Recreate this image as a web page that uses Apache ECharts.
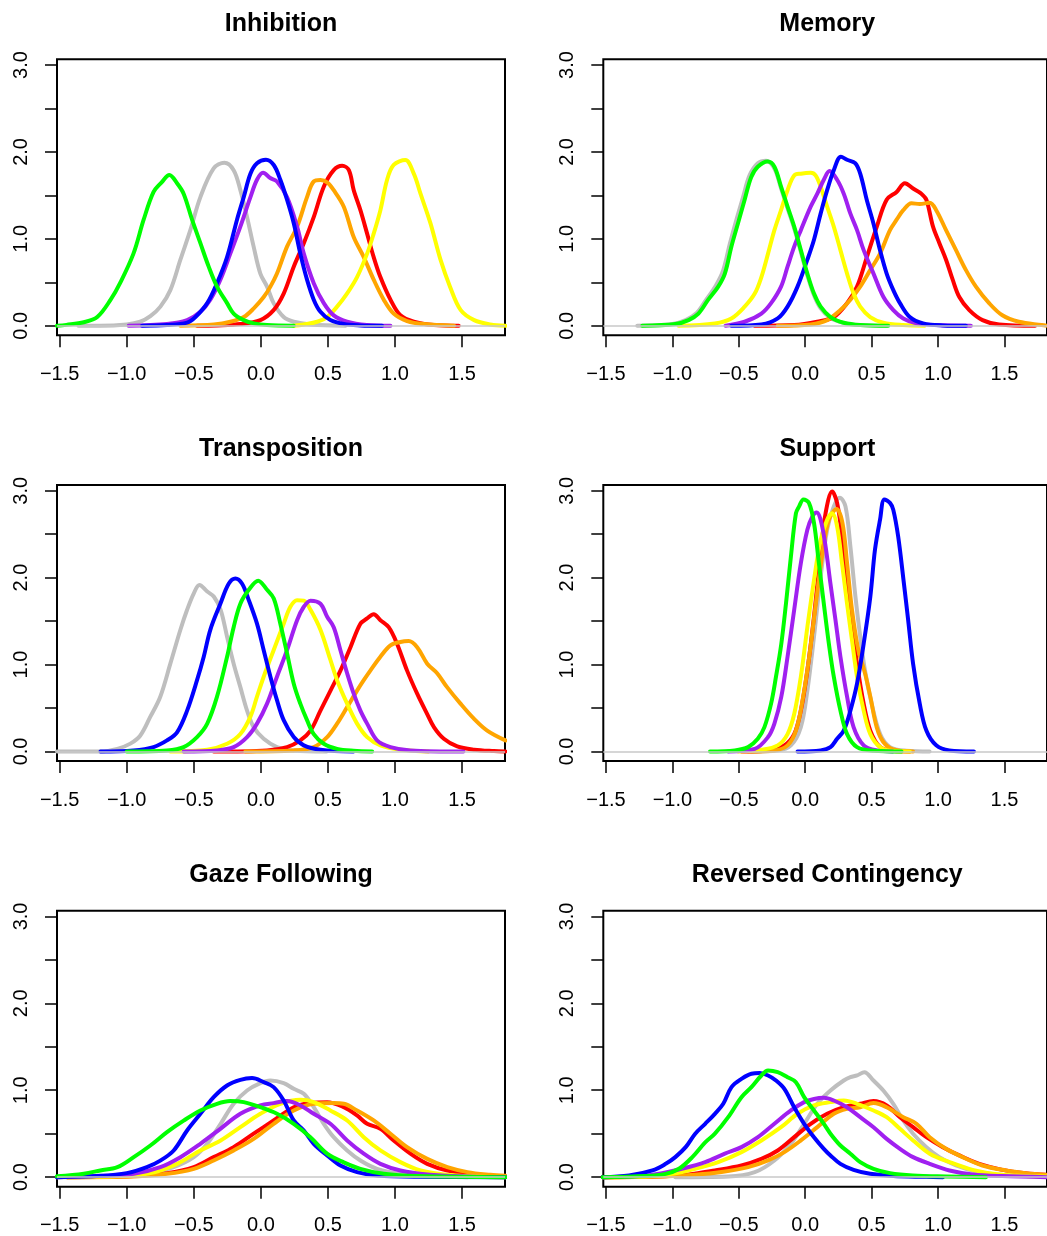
<!DOCTYPE html>
<html>
<head>
<meta charset="utf-8">
<script src="https://cdn.jsdelivr.net/npm/echarts@6/dist/echarts.min.js"></script>
<style>
  html, body { margin: 0; padding: 0; background: #ffffff; }
  #chart { width: 1047px; height: 1236px; }
</style>
</head>
<body>
<div id="chart"></div>
<script>
// Posterior density curves, one panel per task, seven groups per panel.
const panelTitles = ['Inhibition', 'Memory', 'Transposition', 'Support', 'Gaze Following', 'Reversed Contingency'];
const xTicks = [-1.5, -1.0, -0.5, 0.0, 0.5, 1.0, 1.5];
const yTicks = [0, 0.5, 1.0, 1.5, 2.0, 2.5, 3.0];
const yLabels = [0, 1.0, 2.0, 3.0];
const curveOrder = ['gray', 'red', 'orange', 'yellow', 'purple', 'blue', 'green'];
const curveColors = { red: '#ff0000', orange: '#ffa500', yellow: '#ffff00', green: '#00ff00', blue: '#0000ff', purple: '#a020f0', gray: '#bebebe' };

const inhibition = {
  green: [[-1.52,0],[-1.45,0.01],[-1.32,0.04],[-1.22,0.10],[-1.12,0.30],[-1.05,0.49],[-0.95,0.83],[-0.874,1.22],[-0.80,1.54],[-0.74,1.65],[-0.682,1.734],[-0.625,1.64],[-0.576,1.52],[-0.513,1.22],[-0.451,0.95],[-0.389,0.68],[-0.327,0.45],[-0.252,0.26],[-0.203,0.14],[-0.128,0.065],[-0.053,0.027],[0.046,0.008],[0.245,0]],
  gray: [[-1.36,0],[-1.2,0],[-1.0,0.015],[-0.90,0.046],[-0.824,0.11],[-0.749,0.22],[-0.675,0.41],[-0.60,0.76],[-0.526,1.10],[-0.451,1.48],[-0.352,1.81],[-0.272,1.876],[-0.203,1.79],[-0.153,1.56],[-0.103,1.25],[-0.054,0.91],[-0.004,0.60],[0.046,0.45],[0.095,0.26],[0.17,0.10],[0.245,0.046],[0.37,0.015],[0.63,0]],
  blue: [[-0.886,0],[-0.70,0.008],[-0.55,0.035],[-0.488,0.10],[-0.40,0.26],[-0.327,0.49],[-0.252,0.79],[-0.178,1.22],[-0.128,1.48],[-0.078,1.75],[-0.029,1.87],[0.038,1.91],[0.096,1.85],[0.145,1.68],[0.195,1.45],[0.245,1.18],[0.294,0.83],[0.344,0.53],[0.394,0.30],[0.444,0.16],[0.518,0.065],[0.618,0.019],[0.742,0.004],[0.904,0]],
  purple: [[-0.986,0],[-0.70,0.02],[-0.55,0.065],[-0.451,0.16],[-0.377,0.30],[-0.302,0.53],[-0.228,0.83],[-0.153,1.14],[-0.078,1.48],[-0.029,1.68],[0.016,1.76],[0.07,1.70],[0.12,1.66],[0.195,1.48],[0.27,1.14],[0.32,0.83],[0.394,0.49],[0.469,0.26],[0.543,0.12],[0.643,0.046],[0.79,0.008],[0.966,0]],
  orange: [[-0.60,0],[-0.35,0.015],[-0.227,0.046],[-0.128,0.10],[-0.053,0.20],[0.021,0.33],[0.071,0.45],[0.12,0.60],[0.195,0.91],[0.27,1.14],[0.344,1.48],[0.394,1.66],[0.444,1.676],[0.494,1.65],[0.543,1.56],[0.618,1.37],[0.692,1.02],[0.767,0.79],[0.841,0.53],[0.916,0.30],[0.99,0.14],[1.09,0.054],[1.215,0.019],[1.44,0]],
  red: [[-0.476,0],[-0.327,0.004],[-0.153,0.019],[-0.004,0.065],[0.095,0.18],[0.17,0.37],[0.245,0.68],[0.32,0.95],[0.394,1.25],[0.469,1.60],[0.543,1.79],[0.606,1.84],[0.656,1.79],[0.692,1.56],[0.742,1.33],[0.792,1.06],[0.841,0.79],[0.891,0.56],[0.966,0.30],[1.04,0.12],[1.14,0.046],[1.29,0.008],[1.475,0]],
  yellow: [[0.245,0],[0.32,0.015],[0.42,0.046],[0.494,0.10],[0.568,0.22],[0.642,0.37],[0.717,0.56],[0.792,0.83],[0.841,1.06],[0.891,1.33],[0.941,1.68],[0.99,1.85],[1.077,1.906],[1.14,1.75],[1.19,1.52],[1.264,1.18],[1.339,0.76],[1.41,0.45],[1.49,0.18],[1.59,0.065],[1.71,0.015],[1.823,0]]
};

const memory = {
  gray: [[-1.264,0],[-1.0,0.02],[-0.90,0.065],[-0.815,0.15],[-0.745,0.30],[-0.67,0.47],[-0.617,0.64],[-0.568,0.94],[-0.518,1.22],[-0.468,1.48],[-0.419,1.73],[-0.357,1.87],[-0.295,1.90],[-0.232,1.81],[-0.182,1.58],[-0.133,1.35],[-0.083,1.12],[-0.033,0.85],[0.016,0.58],[0.066,0.35],[0.116,0.20],[0.19,0.09],[0.29,0.03],[0.414,0.008],[0.613,0]],
  green: [[-1.227,0],[-0.977,0.02],[-0.878,0.065],[-0.804,0.14],[-0.73,0.30],[-0.655,0.45],[-0.605,0.60],[-0.556,0.91],[-0.506,1.18],[-0.456,1.45],[-0.407,1.71],[-0.357,1.83],[-0.282,1.89],[-0.232,1.83],[-0.182,1.60],[-0.133,1.37],[-0.083,1.14],[-0.033,0.87],[0.016,0.60],[0.066,0.37],[0.116,0.22],[0.19,0.10],[0.29,0.035],[0.414,0.008],[0.625,0]],
  yellow: [[-0.953,0],[-0.68,0.027],[-0.556,0.084],[-0.456,0.22],[-0.38,0.37],[-0.33,0.56],[-0.28,0.83],[-0.232,1.10],[-0.182,1.33],[-0.133,1.56],[-0.083,1.73],[-0.033,1.75],[0.041,1.76],[0.078,1.73],[0.116,1.60],[0.165,1.37],[0.215,1.14],[0.265,0.87],[0.315,0.60],[0.364,0.37],[0.414,0.22],[0.489,0.10],[0.588,0.035],[0.737,0.008],[0.898,0]],
  purple: [[-0.60,0],[-0.456,0.046],[-0.33,0.14],[-0.257,0.26],[-0.182,0.45],[-0.133,0.68],[-0.083,0.91],[-0.033,1.10],[0.041,1.37],[0.091,1.52],[0.14,1.68],[0.183,1.78],[0.24,1.68],[0.29,1.52],[0.34,1.29],[0.39,1.10],[0.44,0.87],[0.514,0.60],[0.589,0.33],[0.663,0.18],[0.738,0.084],[0.837,0.027],[0.986,0.008],[1.247,0]],
  blue: [[-0.556,0],[-0.33,0.015],[-0.207,0.084],[-0.133,0.22],[-0.058,0.45],[0.016,0.76],[0.066,0.99],[0.116,1.29],[0.165,1.56],[0.215,1.79],[0.269,1.945],[0.315,1.91],[0.376,1.87],[0.414,1.75],[0.463,1.45],[0.513,1.18],[0.563,0.87],[0.613,0.60],[0.663,0.41],[0.713,0.26],[0.787,0.10],[0.887,0.027],[1.036,0.004],[1.21,0]],
  red: [[-0.38,0],[-0.083,0.008],[0.09,0.046],[0.215,0.10],[0.315,0.26],[0.39,0.45],[0.464,0.79],[0.539,1.14],[0.613,1.45],[0.688,1.54],[0.75,1.64],[0.812,1.58],[0.874,1.52],[0.912,1.45],[0.962,1.14],[1.01,0.95],[1.06,0.76],[1.11,0.53],[1.16,0.33],[1.235,0.18],[1.335,0.065],[1.459,0.015],[1.73,0]],
  orange: [[-0.207,0],[0.041,0.015],[0.165,0.065],[0.265,0.18],[0.34,0.30],[0.414,0.45],[0.489,0.64],[0.563,0.83],[0.638,1.10],[0.688,1.22],[0.738,1.33],[0.80,1.41],[0.862,1.40],[0.937,1.415],[0.986,1.33],[1.06,1.10],[1.135,0.87],[1.21,0.64],[1.285,0.45],[1.384,0.26],[1.484,0.12],[1.608,0.046],[1.78,0.008],[1.823,0]]
};

const transposition = {
  gray: [[-1.52,0],[-1.196,0],[-1.07,0.03],[-0.973,0.09],[-0.90,0.18],[-0.824,0.40],[-0.75,0.63],[-0.675,1.01],[-0.60,1.40],[-0.55,1.63],[-0.50,1.82],[-0.458,1.915],[-0.40,1.84],[-0.35,1.78],[-0.30,1.63],[-0.252,1.32],[-0.203,1.01],[-0.153,0.74],[-0.103,0.47],[-0.054,0.28],[0.021,0.146],[0.12,0.05],[0.245,0.012],[0.49,0]],
  blue: [[-1.196,0],[-0.95,0.012],[-0.80,0.05],[-0.70,0.127],[-0.625,0.22],[-0.55,0.47],[-0.476,0.82],[-0.426,1.09],[-0.377,1.40],[-0.302,1.70],[-0.24,1.93],[-0.19,1.99],[-0.14,1.93],[-0.09,1.74],[-0.029,1.47],[0.021,1.165],[0.071,0.86],[0.12,0.59],[0.17,0.36],[0.245,0.165],[0.32,0.07],[0.444,0.02],[0.69,0]],
  green: [[-1.0,0],[-0.70,0.012],[-0.576,0.05],[-0.476,0.165],[-0.40,0.32],[-0.327,0.63],[-0.252,1.09],[-0.203,1.43],[-0.153,1.70],[-0.09,1.86],[-0.02,1.965],[0.046,1.86],[0.096,1.76],[0.145,1.47],[0.195,1.13],[0.245,0.78],[0.294,0.55],[0.344,0.36],[0.394,0.20],[0.469,0.088],[0.568,0.03],[0.69,0.008],[0.83,0]],
  yellow: [[-0.675,0],[-0.40,0.02],[-0.252,0.088],[-0.153,0.20],[-0.078,0.40],[-0.029,0.63],[0.021,0.86],[0.095,1.165],[0.17,1.47],[0.22,1.665],[0.27,1.74],[0.32,1.735],[0.37,1.63],[0.444,1.40],[0.519,1.05],[0.568,0.82],[0.643,0.55],[0.717,0.32],[0.792,0.165],[0.891,0.07],[1.04,0.02],[1.25,0]],
  purple: [[-0.576,0],[-0.327,0.012],[-0.203,0.05],[-0.103,0.165],[-0.029,0.32],[0.046,0.55],[0.12,0.86],[0.195,1.165],[0.27,1.51],[0.32,1.665],[0.37,1.735],[0.444,1.70],[0.494,1.55],[0.543,1.43],[0.593,1.165],[0.643,0.90],[0.692,0.665],[0.742,0.47],[0.792,0.32],[0.866,0.127],[0.966,0.05],[1.115,0.012],[1.51,0]],
  red: [[-0.352,0],[0.046,0.012],[0.195,0.05],[0.294,0.127],[0.37,0.24],[0.444,0.47],[0.519,0.70],[0.593,0.93],[0.668,1.20],[0.742,1.47],[0.792,1.53],[0.841,1.58],[0.891,1.51],[0.953,1.43],[1.015,1.24],[1.09,0.93],[1.165,0.665],[1.24,0.43],[1.29,0.28],[1.364,0.146],[1.464,0.058],[1.59,0.02],[1.737,0.004],[1.823,0]],
  orange: [[-0.116,0],[0.245,0.012],[0.394,0.05],[0.494,0.165],[0.568,0.32],[0.643,0.51],[0.717,0.70],[0.767,0.82],[0.816,0.93],[0.891,1.09],[0.966,1.22],[1.04,1.26],[1.102,1.27],[1.165,1.20],[1.24,1.01],[1.314,0.90],[1.388,0.74],[1.488,0.55],[1.588,0.377],[1.687,0.24],[1.823,0.127]]
};

const support = {
  gray: [[-0.406,0],[-0.207,0.012],[-0.108,0.07],[-0.033,0.28],[0.016,0.70],[0.066,1.32],[0.116,2.01],[0.165,2.55],[0.215,2.82],[0.26,2.92],[0.303,2.82],[0.34,2.36],[0.378,1.78],[0.414,1.32],[0.45,0.93],[0.5,0.55],[0.564,0.20],[0.638,0.05],[0.762,0.008],[0.936,0]],
  red: [[-0.48,0],[-0.28,0.012],[-0.158,0.07],[-0.083,0.20],[-0.033,0.47],[0.016,0.93],[0.066,1.55],[0.116,2.28],[0.153,2.74],[0.203,2.99],[0.24,2.86],[0.277,2.47],[0.315,1.97],[0.352,1.47],[0.39,1.01],[0.44,0.55],[0.49,0.24],[0.564,0.05],[0.663,0.004],[0.787,0]],
  orange: [[-0.43,0],[-0.232,0.012],[-0.133,0.07],[-0.07,0.24],[-0.02,0.59],[0.03,1.09],[0.08,1.70],[0.13,2.28],[0.178,2.665],[0.236,2.79],[0.28,2.63],[0.315,2.165],[0.352,1.63],[0.40,1.165],[0.45,0.90],[0.49,0.63],[0.538,0.28],[0.588,0.108],[0.663,0.023],[0.812,0]],
  yellow: [[-0.505,0],[-0.33,0.02],[-0.207,0.07],[-0.133,0.20],[-0.083,0.43],[-0.033,0.86],[0.016,1.43],[0.066,1.97],[0.116,2.43],[0.165,2.665],[0.203,2.74],[0.24,2.59],[0.277,2.165],[0.315,1.70],[0.352,1.28],[0.39,0.86],[0.44,0.47],[0.49,0.20],[0.564,0.05],[0.663,0.004],[0.787,0]],
  purple: [[-0.58,0],[-0.38,0.03],[-0.28,0.165],[-0.232,0.32],[-0.18,0.63],[-0.133,1.09],[-0.083,1.63],[-0.033,2.165],[0.016,2.55],[0.053,2.70],[0.086,2.75],[0.116,2.665],[0.153,2.36],[0.19,1.93],[0.228,1.51],[0.265,1.09],[0.315,0.63],[0.364,0.28],[0.44,0.07],[0.54,0.012],[0.66,0]],
  blue: [[-0.058,0],[0.116,0.012],[0.19,0.05],[0.24,0.146],[0.29,0.24],[0.34,0.47],[0.39,0.78],[0.44,1.24],[0.49,1.78],[0.525,2.32],[0.563,2.665],[0.596,2.90],[0.638,2.86],[0.663,2.78],[0.70,2.47],[0.74,1.97],[0.775,1.51],[0.812,1.01],[0.862,0.55],[0.912,0.24],[0.986,0.07],[1.085,0.012],[1.27,0]],
  green: [[-0.717,0],[-0.53,0.012],[-0.43,0.05],[-0.357,0.146],[-0.307,0.28],[-0.257,0.55],[-0.22,0.86],[-0.18,1.24],[-0.145,1.70],[-0.108,2.24],[-0.07,2.74],[-0.046,2.82],[-0.013,2.90],[0.028,2.86],[0.066,2.63],[0.103,2.165],[0.14,1.70],[0.178,1.24],[0.215,0.86],[0.265,0.47],[0.315,0.20],[0.39,0.05],[0.514,0.008],[0.725,0]]
};

const gazeFollowing = {
  gray: [[-1.52,0],[-1.07,0.008],[-0.824,0.046],[-0.65,0.115],[-0.50,0.23],[-0.40,0.384],[-0.30,0.614],[-0.203,0.844],[-0.103,0.997],[-0.004,1.082],[0.071,1.112],[0.17,1.082],[0.245,1.016],[0.32,0.959],[0.394,0.805],[0.469,0.614],[0.543,0.46],[0.643,0.307],[0.742,0.192],[0.866,0.096],[1.04,0.038],[1.29,0.012],[1.54,0]],
  red: [[-1.445,0],[-0.948,0.012],[-0.70,0.046],[-0.50,0.115],[-0.352,0.23],[-0.203,0.345],[-0.054,0.50],[0.095,0.652],[0.245,0.805],[0.369,0.852],[0.494,0.863],[0.618,0.805],[0.717,0.71],[0.792,0.614],[0.891,0.556],[0.99,0.422],[1.115,0.27],[1.24,0.153],[1.39,0.077],[1.59,0.031],[1.823,0.008]],
  orange: [[-1.445,0],[-0.948,0.008],[-0.70,0.038],[-0.50,0.096],[-0.352,0.192],[-0.203,0.307],[-0.054,0.44],[0.095,0.614],[0.245,0.767],[0.394,0.844],[0.543,0.852],[0.618,0.844],[0.717,0.767],[0.841,0.652],[0.966,0.50],[1.09,0.345],[1.24,0.21],[1.39,0.115],[1.54,0.058],[1.71,0.027],[1.823,0.015]],
  yellow: [[-1.445,0],[-1.07,0.012],[-0.824,0.046],[-0.625,0.153],[-0.451,0.307],[-0.30,0.422],[-0.153,0.575],[-0.004,0.729],[0.145,0.844],[0.294,0.89],[0.394,0.863],[0.518,0.767],[0.643,0.652],[0.767,0.46],[0.891,0.307],[1.04,0.173],[1.19,0.077],[1.364,0.031],[1.59,0.008],[1.823,0]],
  purple: [[-1.52,0],[-1.197,0.012],[-0.948,0.038],[-0.75,0.115],[-0.60,0.23],[-0.451,0.384],[-0.302,0.556],[-0.153,0.729],[-0.004,0.825],[0.095,0.852],[0.195,0.875],[0.294,0.825],[0.394,0.729],[0.518,0.614],[0.643,0.422],[0.767,0.27],[0.891,0.153],[1.04,0.077],[1.24,0.031],[1.54,0.008],[1.823,0]],
  blue: [[-1.52,0],[-1.197,0.015],[-1.0,0.046],[-0.85,0.115],[-0.75,0.19],[-0.65,0.307],[-0.55,0.537],[-0.451,0.729],[-0.352,0.92],[-0.252,1.055],[-0.153,1.12],[-0.066,1.14],[0.021,1.093],[0.095,1.036],[0.17,0.882],[0.245,0.652],[0.32,0.537],[0.394,0.384],[0.494,0.25],[0.593,0.134],[0.717,0.058],[0.866,0.019],[1.165,0.004],[1.823,0]],
  green: [[-1.52,0.01],[-1.32,0.04],[-1.197,0.077],[-1.07,0.115],[-0.948,0.23],[-0.824,0.364],[-0.70,0.518],[-0.576,0.65],[-0.451,0.767],[-0.327,0.844],[-0.228,0.875],[-0.128,0.863],[-0.004,0.805],[0.12,0.729],[0.245,0.614],[0.369,0.46],[0.493,0.27],[0.618,0.17],[0.742,0.096],[0.916,0.038],[1.165,0.012],[1.823,0]]
};

const reversedContingency = {
  gray: [[-0.978,0],[-0.58,0.008],[-0.38,0.058],[-0.232,0.192],[-0.108,0.384],[-0.008,0.614],[0.091,0.844],[0.19,0.997],[0.29,1.112],[0.34,1.15],[0.39,1.17],[0.445,1.208],[0.514,1.112],[0.588,0.997],[0.663,0.844],[0.738,0.652],[0.812,0.50],[0.912,0.345],[1.01,0.23],[1.135,0.134],[1.285,0.065],[1.46,0.027],[1.66,0.012],[1.823,0.006]],
  red: [[-1.525,0],[-1.127,0.008],[-0.878,0.031],[-0.68,0.077],[-0.48,0.134],[-0.33,0.21],[-0.207,0.307],[-0.083,0.46],[0.041,0.614],[0.165,0.729],[0.29,0.805],[0.414,0.844],[0.514,0.875],[0.613,0.825],[0.713,0.69],[0.812,0.575],[0.912,0.46],[1.036,0.345],[1.16,0.25],[1.31,0.153],[1.484,0.084],[1.66,0.046],[1.823,0.028]],
  orange: [[-1.525,0],[-1.077,0.008],[-0.828,0.027],[-0.63,0.058],[-0.43,0.115],[-0.28,0.192],[-0.157,0.288],[-0.033,0.422],[0.091,0.575],[0.215,0.729],[0.314,0.786],[0.414,0.805],[0.514,0.852],[0.613,0.805],[0.738,0.69],[0.837,0.614],[0.937,0.46],[1.06,0.326],[1.185,0.23],[1.334,0.134],[1.51,0.077],[1.66,0.046],[1.823,0.025]],
  yellow: [[-1.525,0],[-1.2,0.008],[-1.0,0.038],[-0.828,0.096],[-0.655,0.173],[-0.48,0.288],[-0.33,0.422],[-0.182,0.575],[-0.058,0.729],[0.066,0.825],[0.19,0.863],[0.29,0.882],[0.39,0.844],[0.514,0.767],[0.613,0.69],[0.713,0.556],[0.812,0.422],[0.937,0.27],[1.086,0.173],[1.26,0.084],[1.46,0.031],[1.823,0.006]],
  purple: [[-1.525,0],[-1.25,0.012],[-1.077,0.046],[-0.928,0.096],[-0.753,0.173],[-0.605,0.27],[-0.48,0.345],[-0.356,0.46],[-0.232,0.614],[-0.108,0.767],[-0.008,0.863],[0.066,0.90],[0.14,0.913],[0.215,0.882],[0.314,0.805],[0.414,0.69],[0.514,0.575],[0.613,0.44],[0.713,0.326],[0.812,0.23],[0.937,0.153],[1.086,0.077],[1.26,0.031],[1.484,0.012],[1.823,0]],
  blue: [[-1.525,0],[-1.326,0.019],[-1.15,0.077],[-1.05,0.153],[-0.978,0.23],[-0.90,0.345],[-0.828,0.50],[-0.753,0.614],[-0.68,0.729],[-0.617,0.844],[-0.555,1.036],[-0.48,1.13],[-0.405,1.19],[-0.343,1.197],[-0.28,1.17],[-0.22,1.112],[-0.157,1.016],[-0.083,0.805],[-0.008,0.614],[0.066,0.46],[0.14,0.326],[0.19,0.25],[0.265,0.153],[0.364,0.084],[0.489,0.038],[0.663,0.012],[0.912,0.004],[1.036,0]],
  green: [[-1.525,0],[-1.2,0.012],[-1.05,0.038],[-0.95,0.096],[-0.85,0.23],[-0.753,0.40],[-0.68,0.50],[-0.58,0.69],[-0.48,0.92],[-0.405,1.036],[-0.33,1.17],[-0.28,1.227],[-0.207,1.208],[-0.133,1.15],[-0.07,1.093],[-0.008,0.92],[0.066,0.767],[0.14,0.614],[0.19,0.50],[0.265,0.364],[0.34,0.27],[0.414,0.173],[0.514,0.096],[0.638,0.046],[0.81,0.019],[1.06,0.008],[1.36,0]]
};

const panelData = [inhibition, memory, transposition, support, gazeFollowing, reversedContingency];

// Plot frame geometry (pixels)
const colLefts = [57, 603.3];
const rowTops = [59.3, 485, 910.7];
const plotW = 448, plotH = 276;
const xRange = [-1.52, 1.82];
const yRange = [-0.11, 3.066];
const fontFamily = '"Liberation Sans", Arial, Helvetica, sans-serif';

function fmt(v) {
  const s = Math.abs(v).toFixed(1);
  return v < 0 ? '\u2212' + s : s;
}

const grids = [], xAxes = [], yAxes = [], titles = [], series = [];

panelTitles.forEach((name, i) => {
  const col = i % 2, row = Math.floor(i / 2);
  const left = colLefts[col], top = rowTops[row];
  grids.push({
    left: left, top: top, width: plotW, height: plotH,
    show: true, borderColor: '#000', borderWidth: 2, backgroundColor: 'transparent',
    containLabel: false
  });
  titles.push({
    text: name, left: left + plotW / 2, top: top - 48, textAlign: 'center', padding: 0,
    textStyle: { fontFamily, fontSize: 25, fontWeight: 'bold', color: '#000', lineHeight: 25 }
  });
  xAxes.push({
    type: 'value', gridIndex: i, min: xRange[0], max: xRange[1], position: 'bottom',
    axisLine: { show: false, onZero: false },
    splitLine: { show: false },
    axisTick: { show: true, customValues: xTicks, length: 12, lineStyle: { color: '#000', width: 1.5 } },
    axisLabel: { show: true, customValues: xTicks, margin: 29, formatter: fmt, color: '#000', fontFamily, fontSize: 20 }
  });
  yAxes.push({
    type: 'value', gridIndex: i, min: yRange[0], max: yRange[1], position: 'left',
    axisLine: { show: false, onZero: false },
    splitLine: { show: false },
    axisTick: { show: true, customValues: yTicks, length: 12, lineStyle: { color: '#000', width: 1.5 } },
    axisLabel: { show: true, customValues: yLabels, rotate: 90, margin: 26, formatter: fmt, color: '#000', fontFamily, fontSize: 20 }
  });
  // zero reference line
  series.push({
    type: 'line', xAxisIndex: i, yAxisIndex: i, data: [], z: 1, silent: true,
    markLine: {
      silent: true, symbol: 'none', animation: false,
      label: { show: false },
      lineStyle: { color: '#c8c8c8', width: 1.5, type: 'solid' },
      data: [{ yAxis: 0 }]
    }
  });
  curveOrder.forEach((c) => {
    series.push({
      type: 'line', xAxisIndex: i, yAxisIndex: i, z: 2,
      data: panelData[i][c], smooth: 0.35, showSymbol: false, symbol: 'none',
      clip: true, silent: true,
      lineStyle: { color: curveColors[c], width: 4, cap: 'round', join: 'round' }
    });
  });
});

const chart = echarts.init(document.getElementById('chart'), null, { renderer: 'canvas' });
chart.setOption({
  animation: false,
  backgroundColor: '#ffffff',
  title: titles,
  grid: grids,
  xAxis: xAxes,
  yAxis: yAxes,
  series: series
});
</script>
</body>
</html>
